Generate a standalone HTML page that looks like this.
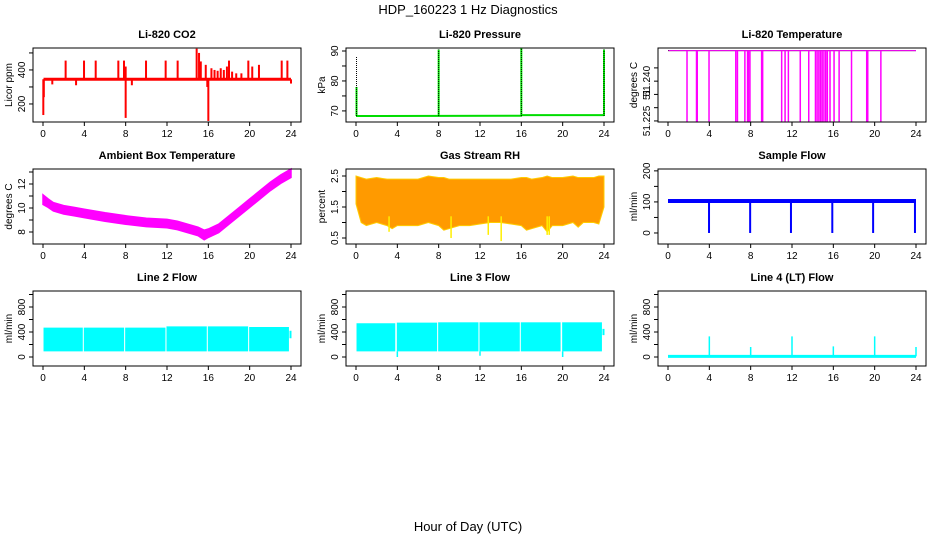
<!DOCTYPE html>
<html><head><meta charset="utf-8"><style>
html,body{margin:0;padding:0;background:#fff;}
svg{display:block;font-family:"Liberation Sans",sans-serif;}
</style></head><body>
<svg id="chart" width="936" height="540" viewBox="0 0 936 540" xmlns="http://www.w3.org/2000/svg">
<text x="468" y="14" font-size="13" text-anchor="middle">HDP_160223  1 Hz Diagnostics</text>
<text x="468" y="531" font-size="13" text-anchor="middle">Hour of Day (UTC)</text>
</svg>
<script>
// ---- data arrays ----
const xTicks = [0,4,8,12,16,20,24];
// CO2
const co2Base = 345;
const co2SpikeT = [2.19,3.97,5.1,7.29,7.84,8.0,9.97,11.87,13.03,14.87,15.1,15.27,15.75,16.3,16.6,16.9,17.2,17.5,17.8,18.0,18.3,18.7,19.2,19.87,20.25,20.9,23.1,23.65];
const co2SpikeV = [455,455,455,455,455,420,455,455,455,525,500,450,430,410,400,395,410,400,420,455,390,380,380,455,420,430,455,455];
const co2DipT = [0.03,0.08,0.9,3.2,8.0,8.6,16.0,15.9,24.0];
const co2DipV = [135,240,315,310,118,310,100,300,320];
// Pressure
const presBaseT = [0,0.1,16,16.05,24];
const presBaseV = [68.3,68.3,68.4,68.6,68.6];
const presSpikeT = [0.05,8.0,16.0,24.0];
const presSpikeBlack = [88,90.5,91,90.5];
const presSpikeGreen = [78,90.5,91,90.5];
// Li-820 temperature
const ltTop = 51.2515;
const ltBottom = 51.2248;
const ltDropT = [1.84,2.76,2.83,3.97,6.56,6.72,7.44,7.7,7.8,7.93,9.06,9.16,11.0,11.33,11.65,12.8,13.62,14.27,14.43,14.6,14.76,14.92,15.09,15.26,15.42,15.68,16.07,16.56,17.76,19.23,19.33,20.6];
// Ambient box temperature
const ambT = [0,0.5,1,2,3,4,6,8,10,12,13,14,15,15.6,16,17,18,19,20,21,22,23,24];
const ambV = [10.7,10.4,10.1,9.85,9.7,9.55,9.25,9.0,8.8,8.7,8.55,8.3,8.05,7.75,7.9,8.3,9.0,9.7,10.4,11.1,11.8,12.4,12.9];
const ambHalf = [0.4,0.35,0.35,0.35,0.35,0.35,0.35,0.35,0.35,0.35,0.35,0.35,0.35,0.4,0.35,0.35,0.35,0.35,0.35,0.35,0.35,0.35,0.35];
// Gas stream RH
const rhT = [0,0.5,1,2,3,3.5,4,5,6,7,8,8.5,9,10,11,12,13,14,15,16,16.5,17,18,18.5,19,20,21,21.5,22,23,23.5,24];
const rhHi = [2.5,2.45,2.4,2.45,2.4,2.4,2.4,2.4,2.4,2.5,2.45,2.45,2.4,2.4,2.4,2.4,2.4,2.4,2.4,2.45,2.45,2.4,2.45,2.5,2.45,2.45,2.5,2.45,2.45,2.45,2.5,2.5];
const rhLo = [1.6,1.0,0.9,1.0,0.9,0.8,0.9,0.9,0.9,1.0,0.9,0.75,0.8,0.9,0.9,0.95,1.0,1.0,0.95,0.9,0.75,0.8,0.9,0.7,0.9,0.9,1.0,0.85,1.0,1.0,0.95,1.5];
const rhSpikeT = [3.2,9.2,12.8,14.05,18.5,18.7];
const rhSpikeV = [0.7,0.5,0.6,0.4,0.6,0.6];
// Sample flow
const sfBase = 103;
const sfDropT = [3.97,7.95,11.9,15.9,19.85,23.9];
const sfDropV = [0,0,0,0,0,0];
// Line 2 flow
const l2SegStart = [0.05,3.95,7.95,11.95,15.95,19.95];
const l2SegEnd = [3.85,7.85,11.85,15.85,19.85,23.8];
const l2Top = [470,470,470,490,490,480];
const l2Bot = [90,90,90,90,90,90];
// Line 3 flow
const l3SegStart = [0.05,3.95,7.95,11.95,15.95,19.95];
const l3SegEnd = [3.8,7.85,11.85,15.85,19.8,23.8];
const l3Top = [540,550,555,555,555,555];
const l3Bot = [90,90,90,90,90,90];
const l3DipT = [4.0,12.0,20.0];
const l3DipV = [0,20,0];
// Line 4 flow
const l4Base = 10;
const l4SpikeT = [4.0,8.0,12.0,16.0,20.0,24.0];
const l4SpikeV = [330,160,330,170,330,160];

// ---- layout ----
const svg = document.getElementById('chart');
const NS = 'http://www.w3.org/2000/svg';
const colLeft = [33,346,658], rowTop = [48,169,291], rowBot = [122,244,366], boxW = 268;
function el(tag, attrs, parent){ const e=document.createElementNS(NS,tag); for(const k in attrs) e.setAttribute(k,attrs[k]); (parent||svg).appendChild(e); return e; }

function panel(col,row,title,ylab,ylim,yticks,ylabels,name){
  const L=colLeft[col], T=rowTop[row], B=rowBot[row];
  const g=el('g',{});
  
  
  const xs=t=>L+10+t*248/24;
  const ys=v=>B-(v-ylim[0])/(ylim[1]-ylim[0])*(B-T);
  const marks=el('g',{},g);
  
  
  const box=el('rect',{x:L,y:T,width:boxW,height:B-T,fill:'none',stroke:'#000','stroke-width':1},g);
  
  
  const tt=el('text',{x:L+boxW/2,y:T-10,'font-size':11,'font-weight':'bold','text-anchor':'middle'},g);
  tt.textContent=title;
  
  
  const xa=el('g',{},g);
  
  
  el('line',{x1:xs(0),x2:xs(24),y1:B,y2:B,stroke:'#000'},xa);
  xTicks.forEach(t=>{ el('line',{x1:xs(t),x2:xs(t),y1:B,y2:B+4,stroke:'#000'},xa);
    const tx=el('text',{x:xs(t),y:B+15,'font-size':10,'text-anchor':'middle'},xa); tx.textContent=t;
    
     });
  const ya=el('g',{},g);
  
  
  yticks.forEach((v,i)=>{ const y=ys(v); el('line',{x1:L,x2:L-4,y1:y,y2:y,stroke:'#000'},ya);
    if(ylabels[i]){ const tx=el('text',{x:L-8,y:y,'font-size':10,'text-anchor':'middle',transform:`rotate(-90 ${L-8} ${y})`},ya); tx.textContent=ylabels[i];
      
       } });
  el('line',{x1:L,x2:L,y1:ys(yticks[0]),y2:ys(yticks[yticks.length-1]),stroke:'#000'},ya);
  const yl=el('text',{x:L-21,y:(T+B)/2,'font-size':10,'text-anchor':'middle',transform:`rotate(-90 ${L-21} ${(T+B)/2})`},g);
  yl.textContent=ylab;
  
  
  return {xs,ys,g:marks};
}
function vline(p,t,v1,v2,color,w,extra){ const a={x1:p.xs(t),x2:p.xs(t),y1:p.ys(v1),y2:p.ys(v2),stroke:color,'stroke-width':w||1}; Object.assign(a,extra||{}); return el('line',a,p.g); }
function hline(p,t1,t2,v,color,w){ return el('line',{x1:p.xs(t1),x2:p.xs(t2),y1:p.ys(v),y2:p.ys(v),stroke:color,'stroke-width':w||1},p.g); }

// CO2
let p=panel(0,0,'Li-820 CO2','Licor ppm',[94,529],[200,300,400,500],['200','','400',''],'co2');
hline(p,0.05,24,co2Base,'#ff0000',3);
co2SpikeT.forEach((t,i)=>vline(p,t,co2Base,co2SpikeV[i],'#ff0000',2));
co2DipT.forEach((t,i)=>vline(p,t,co2Base,co2DipV[i],'#ff0000',2));
// Pressure
p=panel(1,0,'Li-820 Pressure','kPa',[66.3,91],[70,75,80,85,90],['70','','80','','90'],'pressure');
let pts=presBaseT.map((t,i)=>p.xs(t)+','+p.ys(presBaseV[i])).join(' ');
el('polyline',{points:pts,fill:'none',stroke:'#00dd00','stroke-width':2},p.g);
presSpikeT.forEach((t,i)=>{ vline(p,t,presBaseV[0],presSpikeGreen[i],'#00ee00',2); vline(p,t,presBaseV[0],presSpikeBlack[i],'#000',1,{'stroke-dasharray':'1,1'}); });
// Li-820 temperature
p=panel(2,0,'Li-820 Temperature','degrees C',[51.2246,51.2525],[51.225,51.23,51.235,51.24,51.245],['51.225','','51','51.240',''],'li820-temp');
hline(p,0,24,ltTop,'#000',1);
hline(p,0.05,24,ltTop,'#ff00ff',1);
ltDropT.forEach(t=>vline(p,t,ltTop,ltBottom,'#ff00ff',1.5));
// Ambient
p=panel(0,1,'Ambient Box Temperature','degrees C',[7.0,13.25],[8,9,10,11,12,13],['8','','10','','12',''],'ambient-temp');
pts=ambT.map((t,i)=>p.xs(t)+','+p.ys(ambV[i]+ambHalf[i])).concat(ambT.map((t,i)=>p.xs(t)+','+p.ys(ambV[i]-ambHalf[i])).reverse()).join(' ');
el('polygon',{points:pts,fill:'#ff00ff',stroke:'#ff00ff','stroke-width':1.5},p.g);
// RH
p=panel(1,1,'Gas Stream RH','percent',[0.306,2.726],[0.5,1,1.5,2,2.5],['0.5','','1.5','','2.5'],'rh');
pts=rhT.map((t,i)=>p.xs(t)+','+p.ys(rhHi[i])).concat(rhT.map((t,i)=>p.xs(t)+','+p.ys(rhLo[i])).reverse()).join(' ');
el('polygon',{points:pts,fill:'#ff9a00',stroke:'#ffcc00','stroke-width':1},p.g);
rhSpikeT.forEach((t,i)=>vline(p,t,1.2,rhSpikeV[i],'#ffee00',1.5));
// Sample flow
p=panel(2,1,'Sample Flow','ml/min',[-35.5,206],[0,50,100,150,200],['0','','100','','200'],'sample-flow');
hline(p,0,24,sfBase,'#0000ff',4);
sfDropT.forEach((t,i)=>vline(p,t,sfBase,sfDropV[i],'#0000ff',2));
// Line 2
p=panel(0,2,'Line 2 Flow','ml/min',[-144,1056],[0,200,400,600,800,1000],['0','','400','','800',''],'line2-flow');
l2SegStart.forEach((s,i)=>{ el('rect',{x:p.xs(s),y:p.ys(l2Top[i]),width:p.xs(l2SegEnd[i])-p.xs(s),height:p.ys(l2Bot[i])-p.ys(l2Top[i]),fill:'#00ffff'},p.g); });
vline(p,23.95,300,420,'#00ffff',2);
// Line 3
p=panel(1,2,'Line 3 Flow','ml/min',[-144,1056],[0,200,400,600,800,1000],['0','','400','','800',''],'line3-flow');
l3SegStart.forEach((s,i)=>{ el('rect',{x:p.xs(s),y:p.ys(l3Top[i]),width:p.xs(l3SegEnd[i])-p.xs(s),height:p.ys(l3Bot[i])-p.ys(l3Top[i]),fill:'#00ffff'},p.g); });
l3DipT.forEach((t,i)=>vline(p,t,90,l3DipV[i],'#00ffff',1.5));
vline(p,23.95,350,450,'#00ffff',2);
// Line 4
p=panel(2,2,'Line 4 (LT) Flow','ml/min',[-144,1056],[0,200,400,600,800,1000],['0','','400','','800',''],'line4-flow');
hline(p,0,24,l4Base,'#00ffff',3);
l4SpikeT.forEach((t,i)=>vline(p,t,l4Base,l4SpikeV[i],'#00ffff',1.5));
</script>
</body></html>
